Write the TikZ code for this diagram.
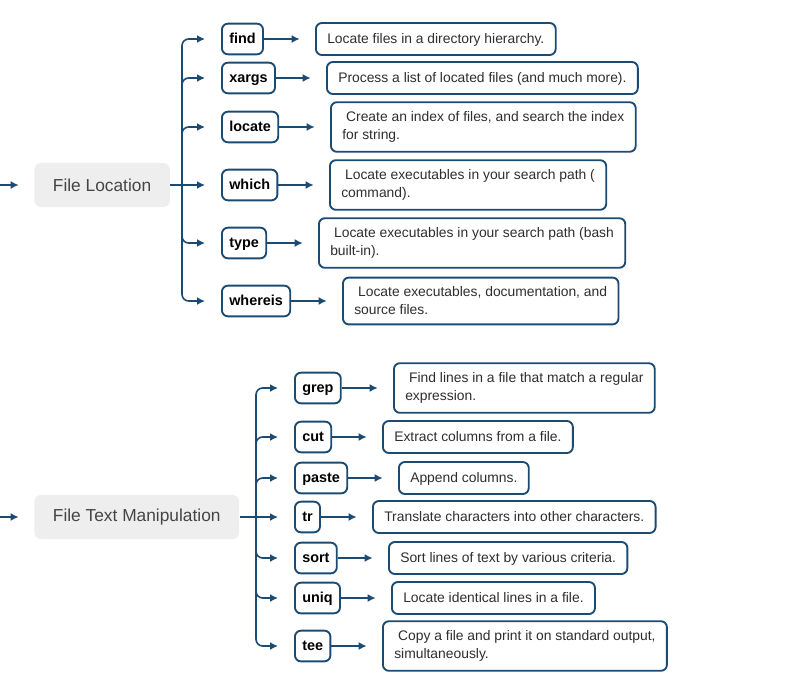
\documentclass[tikz,border=0pt]{standalone}
\usepackage{fontspec}
\setmainfont{Liberation Sans}
\usetikzlibrary{arrows.meta}

\definecolor{navy}{HTML}{1B4A73}
\definecolor{boxgray}{HTML}{EEEEEE}
\definecolor{topictext}{HTML}{454545}
\definecolor{desctext}{HTML}{2E2E2E}

\tikzset{
    topic/.style={fill=boxgray, rounded corners=5pt, text=topictext, anchor=west,
        font=\fontsize{13}{15}\selectfont, minimum height=33pt, inner xsep=14pt},
    cmd/.style={draw=navy, line width=1.4pt, rounded corners=4.5pt, anchor=west,
        font=\bfseries\fontsize{10.8}{13}\selectfont, minimum height=23pt, inner xsep=5.5pt,
        text height=7.5pt, text depth=0.5pt},
    desc/.style={draw=navy, line width=1.4pt, rounded corners=4.5pt, anchor=west, align=left,
        text=desctext, font=\fontsize{10.4}{13.5}\selectfont, minimum height=24pt,
        inner xsep=8.5pt, inner ysep=7pt},
    oneline/.style={desc, text height=7.3pt, text depth=0.5pt},
    link/.style={navy, line width=1.2pt, -{Latex[length=6pt,width=6pt]}, shorten >=11.5pt},
    branch/.style={link, rounded corners=5pt}
}

\begin{document}
\begin{tikzpicture}[x=0.75pt, y=-0.75pt]
        \useasboundingbox (0,0) rectangle (788,674);

        % File Location
        \node[topic] (floc) at (34,185) {File Location};
        \coordinate (flin) at (0,185);
        \coordinate (flbar) at (182,185);

        \node[cmd] (find) at (221,39) {find};
        \node[cmd] (xargs) at (221,78) {xargs};
        \node[cmd] (locate) at (221,127) {locate};
        \node[cmd] (which) at (221,185) {which};
        \node[cmd] (type) at (221,243) {type};
        \node[cmd] (whereis) at (221,301) {whereis};

        \node[oneline] (findd) at (315,39) {Locate files in a directory hierarchy.};
        \node[oneline] (xargsd) at (326,78) {Process a list of located files (and much more).};
        \node[desc] (located) at (330,127) {\ Create an index of files, and search the index\\for string.};
        \node[desc] (whichd) at (329,185) {\ Locate executables in your search path (\\command).};
        \node[desc] (typed) at (318,243) {\ Locate executables in your search path (bash\\built-in).};
        \node[desc] (whereisd) at (342,301) {\ Locate executables, documentation, and\\source files.};

        \draw[link] (flin) -- (floc);
        \draw[link, shorten >=12pt] (floc) -- (which);
        \draw[branch, shorten >=12pt] (flbar) |- (find);
        \draw[branch, shorten >=12pt] (flbar) |- (xargs);
        \draw[branch, shorten >=12pt] (flbar) |- (locate);
        \draw[branch, shorten >=12pt] (flbar) |- (type);
        \draw[branch, shorten >=12pt] (flbar) |- (whereis);

        \draw[link] (find) -- (findd);
        \draw[link] (xargs) -- (xargsd);
        \draw[link] (locate) -- (located);
        \draw[link] (which) -- (whichd);
        \draw[link] (type) -- (typed);
        \draw[link] (whereis) -- (whereisd);

        % File Text Manipulation
        \node[topic] (ftm) at (34,517) {File Text Manipulation};
        \coordinate (ftin) at (0,517);
        \coordinate (ftbar) at (256,517);

        \node[cmd] (grep) at (294,388) {grep};
        \node[cmd] (cut) at (294,437) {cut};
        \node[cmd] (paste) at (294,478) {paste};
        \node[cmd] (tr) at (294,517) {tr};
        \node[cmd] (sort) at (294,558) {sort};
        \node[cmd] (uniq) at (294,598) {uniq};
        \node[cmd] (tee) at (294,646) {tee};

        \node[desc] (grepd) at (393,388) {\ Find lines in a file that match a regular\\expression.};
        \node[oneline] (cutd) at (382,437) {Extract columns from a file.};
        \node[oneline] (pasted) at (398,478) {Append columns.};
        \node[oneline] (trd) at (372,517) {Translate characters into other characters.};
        \node[oneline] (sortd) at (388,558) {Sort lines of text by various criteria.};
        \node[oneline] (uniqd) at (391,598) {Locate identical lines in a file.};
        \node[desc] (teed) at (382,646) {\ Copy a file and print it on standard output,\\simultaneously.};

        \draw[link] (ftin) -- (ftm);
        \draw[link, shorten >=12pt] (ftm) -- (tr);
        \draw[branch, shorten >=12pt] (ftbar) |- (grep);
        \draw[branch, shorten >=12pt] (ftbar) |- (cut);
        \draw[branch, shorten >=12pt] (ftbar) |- (paste);
        \draw[branch, shorten >=12pt] (ftbar) |- (sort);
        \draw[branch, shorten >=12pt] (ftbar) |- (uniq);
        \draw[branch, shorten >=12pt] (ftbar) |- (tee);

        \draw[link] (grep) -- (grepd);
        \draw[link] (cut) -- (cutd);
        \draw[link] (paste) -- (pasted);
        \draw[link] (tr) -- (trd);
        \draw[link] (sort) -- (sortd);
        \draw[link] (uniq) -- (uniqd);
        \draw[link] (tee) -- (teed);

    \end{tikzpicture}
\end{document}
